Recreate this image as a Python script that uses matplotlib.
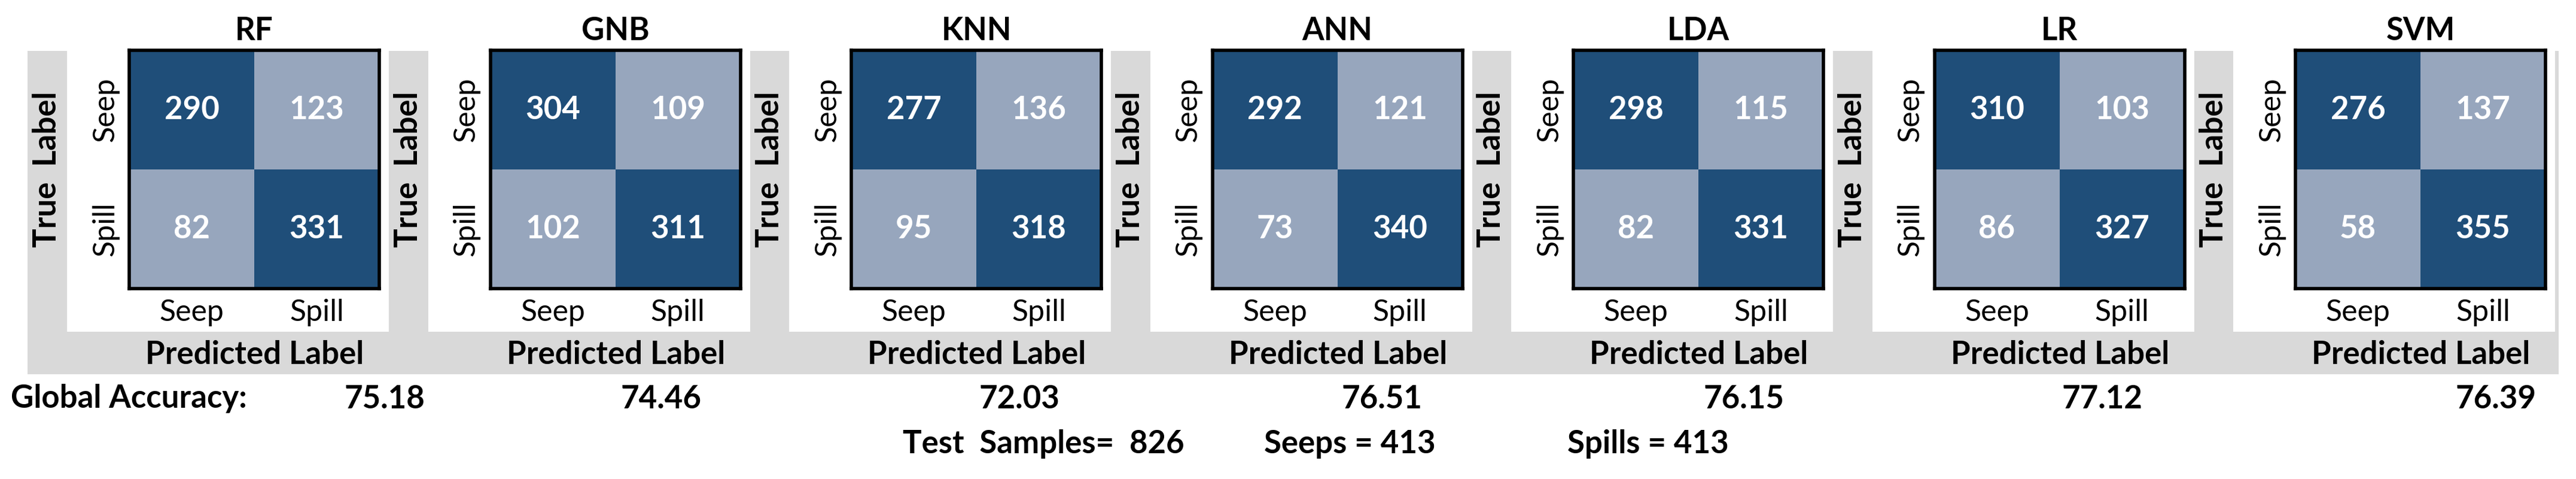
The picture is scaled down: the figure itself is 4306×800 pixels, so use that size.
import matplotlib
matplotlib.use("Agg")
import matplotlib.pyplot as plt
import numpy as np
from matplotlib.colors import ListedColormap, BoundaryNorm
from matplotlib.patches import Rectangle

models = ["RF", "GNB", "KNN", "ANN", "LDA", "LR", "SVM"]
matrices = [
    [[290, 123], [82, 331]],
    [[304, 109], [102, 311]],
    [[277, 136], [95, 318]],
    [[292, 121], [73, 340]],
    [[298, 115], [82, 331]],
    [[310, 103], [86, 327]],
    [[276, 137], [58, 355]],
]
accuracies = ["75.18", "74.46", "72.03", "76.51", "76.15", "77.12", "76.39"]
class_labels = ["Seep", "Spill"]
acc_right = [710, 1173, 1771, 2377, 2982, 3581, 4240]

plt.rcParams['font.family'] = ['Lato', 'DejaVu Sans']
W, H = 4306, 800
fig = plt.figure(figsize=(W / 100, H / 100), dpi=100)
bg = fig.add_axes([0, 0, 1, 1])
bg.set_xlim(0, W); bg.set_ylim(H, 0); bg.axis("off")

GRAY = "#d9d9d9"
cmap = ListedColormap(["#97a6bd", "#1f4e79"])
norm = BoundaryNorm([0, 200, 1000], 2)
pitch = 603.5
bg.add_patch(Rectangle((46, 85), 4277 - 46, 625 - 85, color=GRAY, lw=0))
for i, m in enumerate(models):
    x0 = 46 + pitch * i
    wr = min(x0 + 604, 4277)
    bg.add_patch(Rectangle((x0 + 66, 85), wr - (x0 + 66), 554 - 85, color="white", lw=0))
    hx0, hx1, hy0, hy1 = x0 + 170, x0 + 588, 84, 482
    ax = fig.add_axes([hx0 / W, 1 - hy1 / H, (hx1 - hx0) / W, (hy1 - hy0) / H])
    ax.imshow(np.array(matrices[i]), cmap=cmap, norm=norm, aspect="auto")
    for r in range(2):
        for c in range(2):
            ax.text(c, r, str(matrices[i][r][c]), ha="center", va="center",
                    color="white", fontsize=38, fontweight="bold")
    ax.set_xticks([0, 1]); ax.set_xticklabels(class_labels, fontsize=36)
    ax.set_yticks([0, 1]); ax.set_yticklabels(class_labels, fontsize=36, rotation=90, va="center")
    ax.tick_params(length=0, pad=12)
    for s in ax.spines.values():
        s.set_linewidth(4)
    ax.set_title(m, fontsize=38, fontweight="bold", pad=12)
    bg.text(x0 + 33, 283, "True  Label", rotation=90, ha="center", va="center",
            fontsize=38, fontweight="bold")
    bg.text(x0 + 380, 592, "Predicted Label", ha="center", va="center",
            fontsize=38, fontweight="bold")
    bg.text(acc_right[i], 666, accuracies[i], ha="right", va="center",
            fontsize=38, fontweight="bold")

bg.text(18, 666, "Global Accuracy:", ha="left", va="center", fontsize=38, fontweight="bold")
bg.text(1509, 742, "Test  Samples=  826", ha="left", va="center", fontsize=38, fontweight="bold")
bg.text(2113, 742, "Seeps = 413", ha="left", va="center", fontsize=38, fontweight="bold")
bg.text(2620, 742, "Spills = 413", ha="left", va="center", fontsize=38, fontweight="bold")

fig.savefig("out.png", dpi=100)
